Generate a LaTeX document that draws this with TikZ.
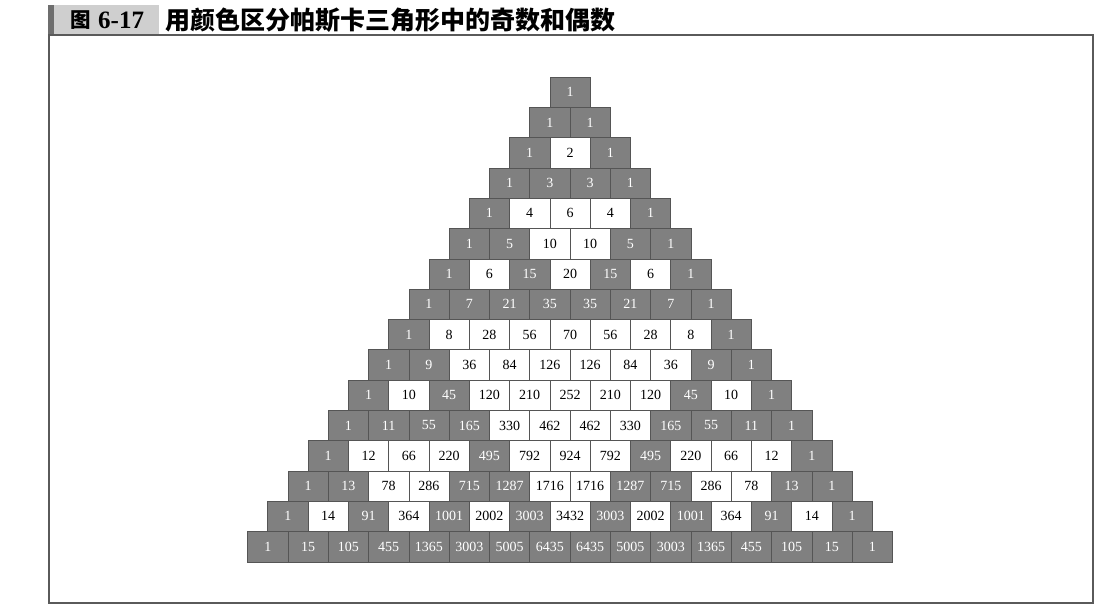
\documentclass[tikz,border=0pt]{standalone}
\usepackage{fontspec}
\setmainfont{Liberation Serif}
\newfontfamily\cjk{Noto Sans CJK SC}
\definecolor{oddgray}{HTML}{808080}
\definecolor{cellline}{HTML}{555555}
\definecolor{frameline}{HTML}{5a5a5a}
\definecolor{titlegray}{HTML}{CFCFCF}
\definecolor{titledark}{HTML}{6E6E6E}
\begin{document}
\begin{tikzpicture}[x=1pt,y=-1pt,
  cell/.style={draw=cellline, line width=0.6pt, minimum width=40.3pt,
    minimum height=30.3pt, inner sep=0pt, font=\fontsize{14}{16}\selectfont},
  titletext/.style={anchor=west, inner sep=0pt}]
\useasboundingbox (0,0) rectangle (1120,614);
\draw[frameline, line width=1.2pt] (49,35) rectangle (1093,603);
\fill[titlegray] (48,5) rectangle (159,34);
\fill[titledark] (48,5) rectangle (54,34);
\node[titletext] (figchar) at (70,20) {\cjk\bfseries\fontsize{20.5}{22}\selectfont 图};
\node[titletext] (fignum) at (98,20.5) {\bfseries\fontsize{25}{26}\selectfont 6-17};
\node[titletext] (title) at (165,20) {\cjk\bfseries\fontsize{25}{26}\selectfont 用颜色区分帕斯卡三角形中的奇数和偶数};
\foreach \n in {0,...,15}{
  \gdef\val{1}
  \foreach \k in {0,...,\n}{
    \ifnum\k>0 \xdef\val{\the\numexpr\val*(\n-\k+1)/\k\relax}\fi
    \ifodd\val\relax \def\cf{oddgray}\def\ct{white}\else\def\cf{white}\def\ct{black}\fi
    \node[cell, fill=\cf, text=\ct] (c\n-\k) at ({570+(\k-\n/2)*40.3},{77+(\n+0.5)*30.3}) {\val};
  }
}
\end{tikzpicture}
\end{document}
